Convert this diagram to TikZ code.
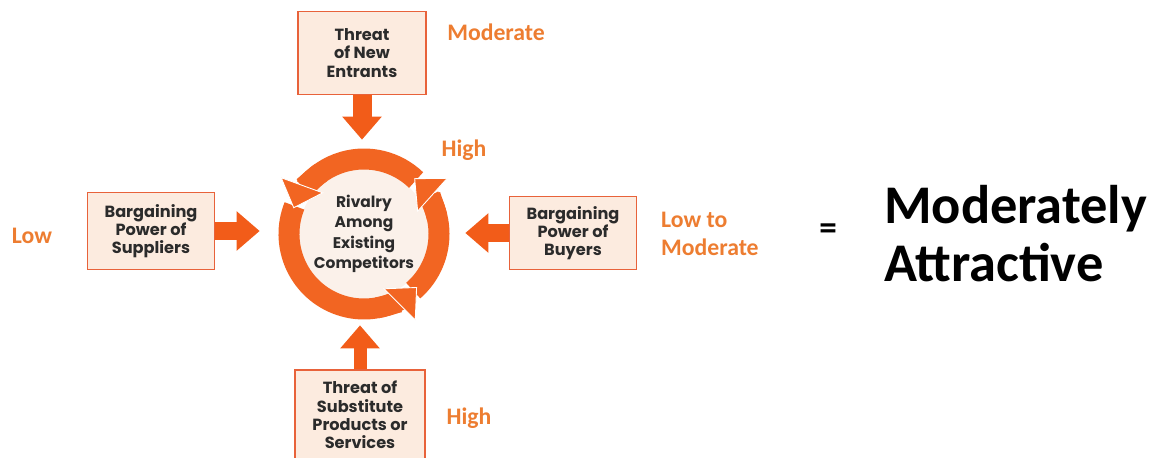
\documentclass[tikz,border=0pt]{standalone}
\usepackage{fontspec}
\setmainfont{Carlito}
\newfontfamily\boxfont{Poppins}
\usetikzlibrary{arrows.meta}
\definecolor{ringorange}{HTML}{F26522}
\definecolor{arroworange}{HTML}{F25C19}
\definecolor{labelorange}{HTML}{ED7D31}
\definecolor{boxfill}{HTML}{FCEBDF}
\definecolor{boxline}{HTML}{E8623A}
\definecolor{corefill}{HTML}{FBF1EA}
\definecolor{boxtext}{HTML}{2B2B2B}
\begin{document}
\begin{tikzpicture}[x=0.02cm, y=0.02cm,
    force/.style={draw=boxline, line width=1.1pt, fill=boxfill, align=center, inner sep=0pt,
      text=boxtext, font=\boxfont\bfseries\fontsize{9.2}{10.4}\selectfont},
    rating/.style={text=labelorange, align=left, font=\bfseries\fontsize{13.5}{16}\selectfont},
    push/.style={draw=arroworange, line width=0.38cm, -{Triangle[width=0.76cm,length=0.46cm]}},
    cycleshaft/.style={draw=ringorange, line width=0.42cm},
    cyclehead/.style={draw=ringorange, line width=0.42cm,
      -{Triangle[width=0.92cm,length=0.5cm,fill=ringorange,color=white,line width=0.5pt]}}]
\useasboundingbox (0,0) rectangle (1150,457);
\node[circle, fill=corefill, minimum size=2.6cm, inner sep=0pt, align=center, text=boxtext,
  font=\boxfont\bfseries\fontsize{8.8}{11.6}\selectfont] (rival) at (364,223) {Rivalry\\Among\\Existing\\Competitors};
\node[force, minimum width=2.56cm, minimum height=1.66cm] (entrants) at (362,404) {Threat\\of New\\Entrants};
\node[force, minimum width=2.54cm, minimum height=1.54cm] (suppliers) at (151,226) {Bargaining\\Power of\\Suppliers};
\node[force, minimum width=2.54cm, minimum height=1.46cm] (buyers) at (573,224) {Bargaining\\Power of\\Buyers};
\node[force, minimum width=2.6cm, minimum height=1.8cm] (substitutes) at (360,42) {Threat of\\Substitute\\Products or\\Services};
% ring of rivalry
\draw[cycleshaft] (rival.center) ++(158:75) arc[start angle=158, end angle=300, radius=75];
\draw[cycleshaft] (rival.center) ++(311:75) arc[start angle=311, end angle=390, radius=75];
\draw[cycleshaft] (rival.center) ++(46:75) arc[start angle=46, end angle=142, radius=75];
\draw[cyclehead] (rival.center) ++(280:75) arc[start angle=280, end angle=315, radius=75];
\draw[cyclehead] (rival.center) ++(373:75) arc[start angle=373, end angle=408, radius=75];
\draw[cyclehead] (rival.center) ++(125:75) arc[start angle=125, end angle=160, radius=75];
% forces pushing in
\draw[push, shorten >=0.58cm] (entrants.south) -- (entrants.south |- rival.north);
\draw[push, shorten >=0.78cm] (suppliers.east) -- (suppliers.east -| rival.west);
\draw[push, shorten >=0.72cm] (buyers.west) -- (buyers.west -| rival.east);
\draw[push, line width=0.26cm, shorten >=0.52cm] (substitutes.north) -- (substitutes.north |- rival.south);
% ratings
\node[rating] (rentrants) at (496,425) {Moderate};
\node[rating] (rrivalry) at (464,307) {High};
\node[rating] (rsuppliers) at (32,221) {Low};
\node[rating, anchor=west, font=\bfseries\fontsize{13.5}{15.9}\selectfont] (rbuyers) at (655,223) {Low to\\Moderate};
\node[rating] (rsubstitutes) at (469,39) {High};
\node[font=\bfseries\fontsize{20}{20}\selectfont] (equals) at (828,225) {=};
\node[anchor=west, align=left, font=\bfseries\fontsize{31}{33}\selectfont] (verdict) at (878,223) {Moderately\\Attractive};
\end{tikzpicture}
\end{document}
